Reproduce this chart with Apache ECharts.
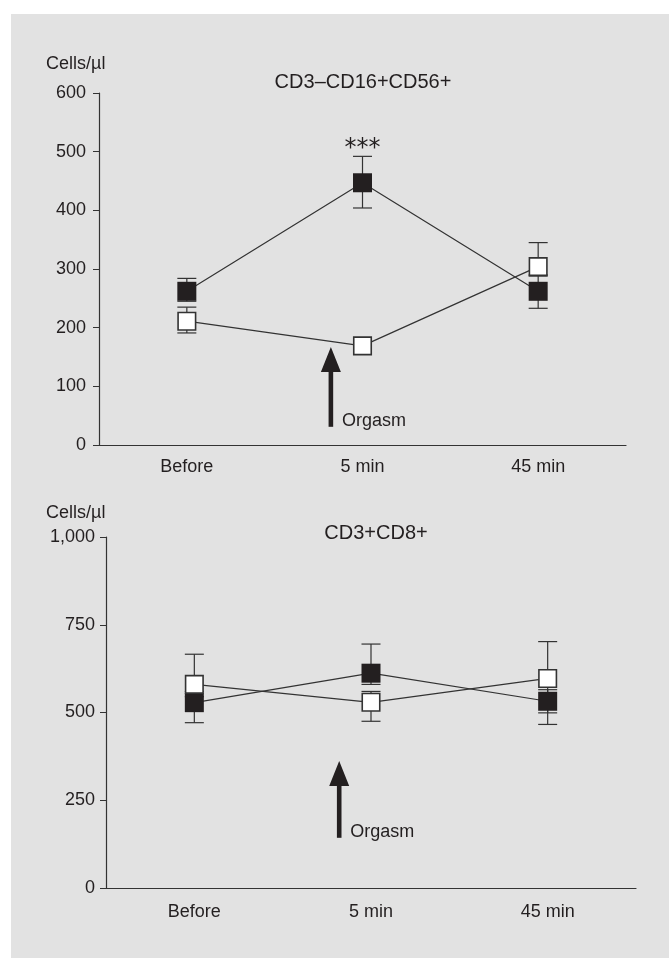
<!DOCTYPE html>
<html>
<head>
<meta charset="utf-8">
<script src="https://cdn.jsdelivr.net/npm/echarts@6/dist/echarts.min.js"></script>
<style>
  html, body { margin: 0; padding: 0; background: #fff; }
  #chart { width: 669px; height: 958px; }
</style>
</head>
<body>
<div id="chart"></div>
<script>
var categories = ['Before', '5 min', '45 min'];

// CD3–CD16+CD56+ (top panel)
var nkFilled = [262, 447, 262];
var nkFilledHigh = [284, 492, 290];
var nkFilledLow = [245, 404, 233];
var nkOpen = [211, 169, 304];
var nkOpenHigh = [235, 180, 345];
var nkOpenLow = [191, 158, 288];
var nkSignif = [[1, 514, '***']];
var nkArrow = [[0, 31, 167]];

// CD3+CD8+ (bottom panel)
var cd8Filled = [528, 612, 532];
var cd8FilledHigh = [560, 695, 565];
var cd8FilledLow = [471, 580, 466];
var cd8Open = [580, 529, 597];
var cd8OpenHigh = [666, 560, 702];
var cd8OpenLow = [545, 475, 499];
var cd8Arrow = [[0, 143, 362]];

var FONT = 'Liberation Sans, Arial, sans-serif';
var INK = '#231f20';

var chart = echarts.init(document.getElementById('chart'));

function errData(lo, hi) {
  var out = [];
  for (var i = 0; i < lo.length; i++) {
    out.push([i, lo[i], hi[i]]);
  }
  return out;
}

// vertical error bar with caps
function renderErr(params, api) {
  var lo = api.coord([api.value(0), api.value(1)]);
  var hi = api.coord([api.value(0), api.value(2)]);
  var w = 9.5;
  var style = { stroke: '#333', lineWidth: 1.2 };
  return {
    type: 'group',
    children: [
      { type: 'line', shape: { x1: lo[0], y1: lo[1], x2: hi[0], y2: hi[1] }, style: style },
      { type: 'line', shape: { x1: lo[0] - w, y1: lo[1], x2: lo[0] + w, y2: lo[1] }, style: style },
      { type: 'line', shape: { x1: hi[0] - w, y1: hi[1], x2: hi[0] + w, y2: hi[1] }, style: style }
    ]
  };
}

// "Orgasm" arrow, placed between Before and 5 min
function renderArrow(params, api) {
  var a = api.coord([0, api.value(1)]);
  var b = api.coord([1, api.value(1)]);
  var tip = api.coord([0, api.value(2)]);
  var x = a[0] + 0.82 * (b[0] - a[0]);
  var y0 = a[1];
  var y1 = tip[1];
  var headH = 25, headW = 10;
  return {
    type: 'group',
    children: [
      { type: 'rect', shape: { x: x - 2.3, y: y1 + headH - 1, width: 4.6, height: y0 - y1 - headH + 1 }, style: { fill: INK } },
      { type: 'polygon', shape: { points: [[x, y1], [x - headW, y1 + headH], [x + headW, y1 + headH]] }, style: { fill: INK } },
      { type: 'text', x: x + 11, y: y0 - 6, style: { text: 'Orgasm', fill: INK, font: '18px ' + FONT, textAlign: 'left', textVerticalAlign: 'middle' } }
    ]
  };
}

function renderSignif(params, api) {
  var p = api.coord([api.value(0), api.value(1)]);
  return {
    type: 'text',
    x: p[0], y: p[1] + 5,
    style: { text: nkSignif[params.dataIndex][2], fill: INK, font: '24px DejaVu Sans', textAlign: 'center', textVerticalAlign: 'middle' }
  };
}

function xAxisOf(idx, margin) {
  return {
    type: 'category', gridIndex: idx, data: categories, boundaryGap: true,
    axisLine: { lineStyle: { color: '#333', width: 1.2 } },
    axisTick: { alignWithLabel: true, length: 6, lineStyle: { color: '#333' } },
    axisLabel: { color: INK, fontFamily: FONT, fontSize: 18, margin: margin },
    splitLine: { show: false }
  };
}

function yAxisOf(idx, max, interval, margin) {
  return {
    type: 'value', gridIndex: idx, min: 0, max: max, interval: interval,
    axisLine: { show: true, lineStyle: { color: '#333', width: 1.2 } },
    axisTick: { show: true, length: 6, lineStyle: { color: '#333' } },
    axisLabel: {
      color: INK, fontFamily: FONT, fontSize: 18, margin: margin,
      formatter: function (v) { return v.toLocaleString('en-US'); }
    },
    splitLine: { show: false }
  };
}

function markerSeries(name, idx, data, filled, z) {
  return {
    name: name, type: 'line', xAxisIndex: idx, yAxisIndex: idx, data: data,
    symbol: 'rect', symbolSize: filled ? 19 : 17.5,
    itemStyle: filled ? { color: INK, borderColor: INK, borderWidth: 0 }
                      : { color: '#fff', borderColor: '#333', borderWidth: 1.6 },
    lineStyle: { color: '#333', width: 1.2 },
    emphasis: { disabled: true },
    z: z
  };
}

var option = {
  animation: false,
  graphic: [
    { type: 'rect', z: -10, shape: { x: 11, y: 14, width: 658, height: 944 }, style: { fill: '#e2e2e2' } },
    { type: 'text', x: 46, y: 64, style: { text: 'Cells/\u00b5l', fill: INK, font: '18px ' + FONT, textVerticalAlign: 'middle' } },
    { type: 'text', x: 363, y: 82, style: { text: 'CD3\u2013CD16+CD56+', fill: INK, font: '20px ' + FONT, textAlign: 'center', textVerticalAlign: 'middle' } },
    { type: 'text', x: 46, y: 513, style: { text: 'Cells/\u00b5l', fill: INK, font: '18px ' + FONT, textVerticalAlign: 'middle' } },
    { type: 'text', x: 376, y: 533, style: { text: 'CD3+CD8+', fill: INK, font: '20px ' + FONT, textAlign: 'center', textVerticalAlign: 'middle' } }
  ],
  grid: [
    { left: 99, top: 93, width: 527, height: 352 },
    { left: 106, top: 537, width: 530, height: 351 }
  ],
  xAxis: [xAxisOf(0, 13), xAxisOf(1, 15)],
  yAxis: [yAxisOf(0, 600, 100, 13), yAxisOf(1, 1000, 250, 11)],
  series: [
    { type: 'custom', xAxisIndex: 0, yAxisIndex: 0, data: errData(nkFilledLow, nkFilledHigh), renderItem: renderErr, z: 1, silent: true },
    { type: 'custom', xAxisIndex: 0, yAxisIndex: 0, data: errData(nkOpenLow, nkOpenHigh), renderItem: renderErr, z: 1, silent: true },
    markerSeries('filled', 0, nkFilled, true, 2),
    markerSeries('open', 0, nkOpen, false, 3),
    { type: 'custom', xAxisIndex: 0, yAxisIndex: 0, data: nkSignif.map(function (d) { return [d[0], d[1]]; }), renderItem: renderSignif, z: 4, silent: true },
    { type: 'custom', xAxisIndex: 0, yAxisIndex: 0, data: nkArrow, renderItem: renderArrow, z: 4, silent: true },

    { type: 'custom', xAxisIndex: 1, yAxisIndex: 1, data: errData(cd8FilledLow, cd8FilledHigh), renderItem: renderErr, z: 1, silent: true },
    { type: 'custom', xAxisIndex: 1, yAxisIndex: 1, data: errData(cd8OpenLow, cd8OpenHigh), renderItem: renderErr, z: 1, silent: true },
    markerSeries('filled', 1, cd8Filled, true, 2),
    markerSeries('open', 1, cd8Open, false, 3),
    { type: 'custom', xAxisIndex: 1, yAxisIndex: 1, data: cd8Arrow, renderItem: renderArrow, z: 4, silent: true }
  ]
};

chart.setOption(option);
</script>
</body>
</html>
